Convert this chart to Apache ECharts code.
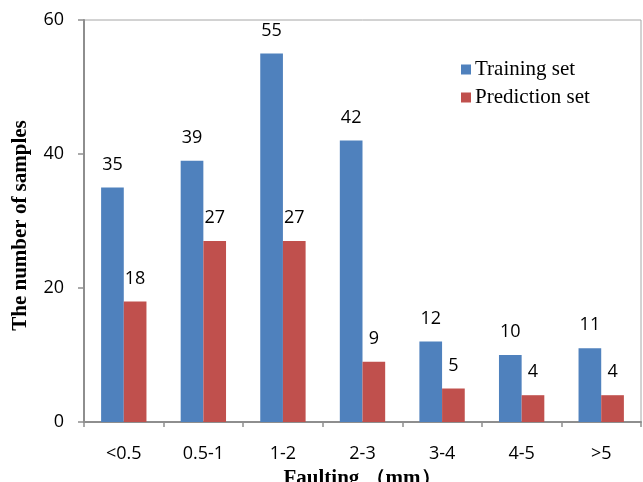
<!DOCTYPE html>
<html>
<head>
<meta charset="utf-8">
<script src="https://cdn.jsdelivr.net/npm/echarts@6/dist/echarts.min.js"></script>
<style>
  html, body { margin: 0; padding: 0; background: #fff; }
  #chart { width: 643px; height: 482px; }
</style>
</head>
<body>
<div id="chart"></div>
<script>
// Faulting classes and sample counts per data set
const categories = ['<0.5', '0.5-1', '1-2', '2-3', '3-4', '4-5', '>5'];
const trainingSet = [35, 39, 55, 42, 12, 10, 11];
const predictionSet = [18, 27, 27, 9, 5, 4, 4];
const yTicks = { min: 0, max: 60, interval: 20 };

const serif = '"Liberation Serif", "Times New Roman", serif';
const sans = '"Open Sans", "Liberation Sans", sans-serif';
const axisGray = '#8e8e8e';

const chart = echarts.init(document.getElementById('chart'), null, { renderer: 'canvas' });

const barLabel = {
  show: true,
  position: 'top',
  distance: 14,
  color: '#000',
  fontFamily: sans,
  fontSize: 18
};

chart.setOption({
  animation: false,
  backgroundColor: '#fff',
  grid: {
    left: 84, right: 2, top: 20, bottom: 60,
    containLabel: false,
    outerBoundsMode: 'none',
    show: true,
    borderColor: '#a6a6a6',
    borderWidth: 1
  },
  legend: {
    orient: 'vertical',
    left: 461,
    top: 59,
    padding: 0,
    icon: 'rect',
    itemWidth: 10,
    itemHeight: 10,
    itemGap: 7,
    textStyle: { fontFamily: serif, fontSize: 21, color: '#000', padding: [0, 0, 0, -1] },
    data: ['Training set', 'Prediction set']
  },
  xAxis: {
    type: 'category',
    data: categories,
    name: 'Faulting （mm）',
    nameLocation: 'middle',
    nameGap: 45,
    nameTextStyle: { fontFamily: serif, fontSize: 21, fontWeight: 'bold', color: '#000' },
    axisLine: { lineStyle: { color: axisGray, width: 2 } },
    axisTick: { show: true, length: 5, lineStyle: { color: axisGray, width: 1.5 } },
    axisLabel: { margin: 23, fontFamily: sans, fontSize: 18, color: '#000' }
  },
  yAxis: {
    type: 'value',
    min: yTicks.min,
    max: yTicks.max,
    interval: yTicks.interval,
    name: 'The number of samples',
    nameLocation: 'middle',
    nameGap: 53,
    nameTextStyle: { fontFamily: serif, fontSize: 21, fontWeight: 'bold', color: '#000', padding: [0, 9, 0, 0] },
    splitLine: { show: false },
    axisLine: { show: true, lineStyle: { color: axisGray, width: 2 } },
    axisTick: { show: true, length: 6, lineStyle: { color: axisGray, width: 1.5 } },
    axisLabel: { margin: 20, fontFamily: sans, fontSize: 18, color: '#000' }
  },
  series: [
    {
      name: 'Training set',
      type: 'bar',
      data: trainingSet,
      barGap: '0%',
      barCategoryGap: '43%',
      itemStyle: { color: '#4F81BD' },
      label: barLabel
    },
    {
      name: 'Prediction set',
      type: 'bar',
      data: predictionSet,
      barGap: '0%',
      barCategoryGap: '43%',
      itemStyle: { color: '#C0504D' },
      label: barLabel
    }
  ]
});
</script>
</body>
</html>
